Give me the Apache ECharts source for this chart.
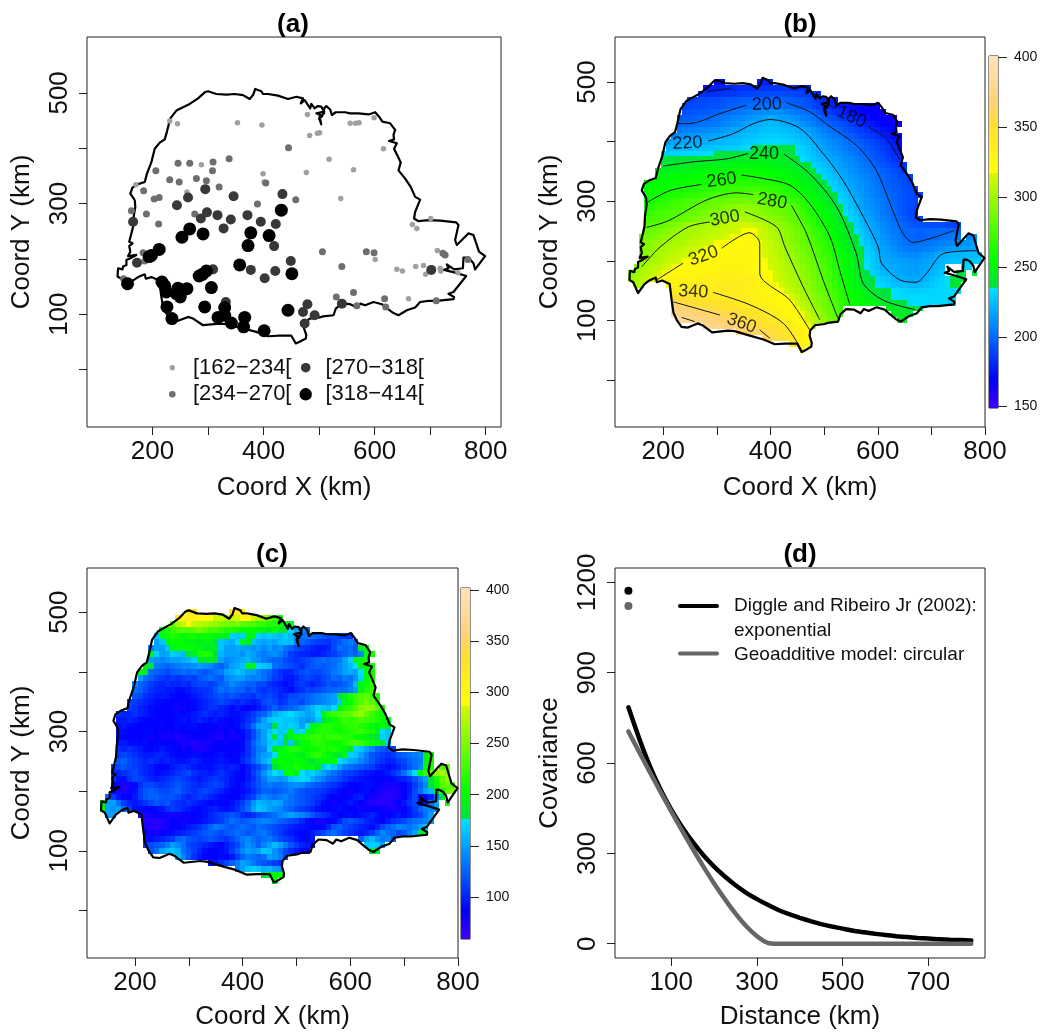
<!DOCTYPE html>
<html><head><meta charset="utf-8"><style>html,body{margin:0;padding:0;background:#fff}#c{width:1045px;height:1032px}</style>
<script src="https://cdn.jsdelivr.net/npm/echarts@6/dist/echarts.min.js"></script></head>
<body><div id="c"></div>
<script>
// ---------- state boundary (km) ----------
const boundary=[[168,306],[160,318],[164,329],[174,335],[186,339],[190,354],[198,375],[204,399],[213,410],[222,416],[226,430],[232,454],[243,468],[267,480],[282,490],[294,501],[300,503],[315,498],[333,497],[336,499],[348,498],[363,496],[375,489],[381,496],[385,507],[396,503],[399,498],[408,498],[426,495],[444,489],[459,493],[471,490],[467,481],[474,487],[484,472],[486,480],[492,472],[497,476],[504,475],[509,466],[495,463],[506,458],[500,454],[504,443],[501,443],[501,457],[509,463],[509,472],[513,476],[520,470],[523,460],[530,465],[547,465],[556,463],[571,463],[589,461],[601,465],[608,457],[614,448],[628,445],[637,433],[634,424],[635,416],[626,413],[640,409],[635,399],[641,387],[647,374],[643,360],[655,345],[665,330],[673,312],[682,307],[673,285],[671,273],[679,268],[697,270],[718,269],[747,266],[751,261],[745,234],[748,225],[763,240],[769,246],[778,243],[783,228],[788,213],[799,205],[781,181],[778,192],[772,199],[766,202],[760,202],[759,183],[743,181],[730,190],[733,183],[725,180],[745,175],[765,169],[742,140],[733,137],[743,131],[742,127],[712,124],[697,124],[682,122],[673,112],[658,107],[643,98],[634,102],[623,110],[613,118],[598,122],[583,116],[574,119],[568,112],[556,118],[541,119],[530,110],[526,98],[507,96],[501,94],[483,92],[474,83],[473,74],[477,62],[476,56],[465,50],[458,47],[450,61],[426,61],[408,60],[387,68],[363,74],[333,82],[321,83],[291,80],[273,92],[264,95],[246,88],[234,89],[225,101],[219,113],[216,131],[212,161],[198,167],[188,164],[186,172],[174,167],[165,161],[153,146],[144,164],[137,168],[138,183],[146,181],[147,186],[153,189],[153,198],[160,201],[171,207],[156,205],[160,213],[158,223],[164,228],[158,231],[162,246],[165,258],[166,276],[169,294],[168,306]];
// ---------- panel (a) stations by class ----------
const class1=[[231,449],[245,444],[353,446],[397,442],[479,461],[483,423],[497,427],[501,428],[556,445],[566,445],[572,446],[599,455],[616,399],[518,380],[562,361],[477,356],[399,354],[401,339],[288,370],[170,334],[262,321],[539,309],[668,262],[676,255],[701,273],[601,199],[640,181],[650,178],[674,186],[688,188],[692,172],[718,183],[719,178],[713,215],[750,175],[661,128]];
const class2=[[246,373],[267,373],[309,375],[338,381],[308,359],[206,359],[231,343],[248,339],[279,345],[297,341],[320,330],[184,323],[203,308],[212,311],[189,281],[211,263],[162,287],[276,281],[389,299],[458,307],[404,337],[445,401],[506,213],[585,213],[599,211],[541,186],[562,139],[531,131],[618,128],[568,115],[620,113],[711,124],[723,210],[727,207],[768,199],[183,211],[186,196],[148,164]];
const class3=[[295,326],[346,313],[264,311],[244,297],[434,317],[298,284],[287,273],[317,279],[341,271],[371,279],[395,267],[422,263],[328,255],[419,223],[165,267],[172,193],[377,180],[402,165],[421,178],[449,196],[309,181],[332,122],[471,104],[479,118],[474,83],[492,98],[541,119],[702,180]];
const class4=[[432,288],[377,247],[410,242],[372,224],[291,245],[267,254],[253,239],[212,217],[198,206],[194,204],[357,189],[451,173],[297,178],[290,172],[284,169],[155,155],[217,158],[222,151],[225,140],[246,147],[262,146],[250,131],[243,137],[306,148],[294,113],[226,113],[235,92],[330,112],[330,98],[318,94],[342,84],[366,94],[364,77],[401,70],[444,107]];
const classLabels=['[162\u2212234[','[234\u2212270[','[270\u2212318[','[318\u2212414['];
// ---------- grid segments shared by panels (b) and (c) ----------
const segY=[500,500,490,480,470,460,450,440,430,420,410,400,390,380,370,360,350,340,330,320,310,300,290,280,270,260,250,240,240,230,220,210,200,190,190,180,180,180,170,160,160,150,140,130,120,120,110,110,100,100,90,80,70,60,50,190,180];
const segX=[300,380,280,270,250,240,240,230,230,230,220,210,210,200,200,200,190,190,170,170,170,170,170,170,170,170,170,160,770,160,160,160,160,150,760,140,750,780,140,150,210,220,220,220,220,620,220,630,230,640,280,340,390,440,460,730,730];
const trendB=[
[172,172],
[178,178,178],
[175,176,177,178,179,180,181,182,183,184,184,184,184,184,184,184,183,183,182,181],
[182,182,183,183,184,185,186,187,188,189,190,190,191,191,191,191,190,190,189,188,186,184,182],
[188,189,190,190,191,192,193,194,195,196,197,197,198,198,198,198,198,198,197,196,195,194,192,188,184,181,179,177],
[190,190,191,191,192,193,193,194,196,197,198,199,200,201,202,203,203,203,202,201,199,197,195,193,190,187,184,182,179,177,175,173,172,170,168,166,165],
[192,193,194,195,195,196,198,200,202,203,204,205,207,208,209,210,211,211,210,208,206,204,203,201,197,193,189,186,183,180,177,174,172,170,169,168,167,165],
[195,196,197,198,199,200,201,203,204,206,208,209,210,212,214,215,217,219,218,216,215,213,210,207,205,203,199,196,193,190,187,184,181,178,175,173,170,168,167,166,165],
[200,200,200,201,202,203,204,205,207,209,211,213,215,217,219,220,222,224,223,221,219,217,215,212,209,206,203,201,198,195,193,190,187,184,181,178,175,172,170,168,166,165],
[205,206,207,208,209,210,211,212,214,215,217,218,220,222,223,225,226,226,226,225,224,223,221,219,216,212,209,206,203,200,197,194,191,188,186,184,180,177,174,172,169],
[209,210,212,213,214,215,216,217,218,219,220,221,222,224,225,226,228,229,230,230,229,228,227,225,222,220,216,213,210,207,204,201,198,196,193,190,187,185,182,179,175,172,168],
[215,216,217,218,219,219,220,220,221,222,223,224,225,226,228,229,230,231,232,233,233,232,231,230,228,225,223,220,217,214,211,208,206,203,201,198,195,192,190,187,184,180,176,172],
[223,223,223,224,224,225,225,226,227,228,228,229,230,231,232,234,235,236,236,237,237,237,237,235,232,230,227,223,219,216,213,211,208,206,203,201,198,195,192,189,186,183,179,173],
[230,230,231,231,232,232,233,233,234,234,235,236,236,237,237,238,239,239,240,240,240,240,240,239,236,233,231,228,225,222,219,216,214,211,209,206,203,200,197,194,192,189,185,182,178],
[236,236,236,237,237,237,238,238,239,239,240,240,241,242,243,244,245,245,246,246,246,245,244,242,240,237,234,230,227,224,222,219,217,214,211,209,206,203,200,197,194,191,188,184,181],
[240,240,241,242,243,243,244,245,246,247,248,248,249,250,250,250,250,250,250,249,249,248,246,245,243,241,238,235,232,229,225,222,219,216,213,210,208,205,203,200,197,194,191,188,185,183],
[246,247,247,248,249,249,250,251,252,253,254,254,255,256,257,258,258,258,257,256,255,254,253,251,250,248,246,243,239,236,232,229,225,222,218,216,213,210,207,205,202,199,197,195,192,189,185],
[251,252,252,253,254,254,255,256,256,257,257,258,259,259,260,261,261,261,260,259,258,257,256,256,254,252,250,247,244,240,236,232,228,225,221,218,215,212,209,207,204,201,199,197,195,192,190,187],
[254,254,255,255,256,257,257,258,258,259,259,260,261,262,263,264,265,266,266,266,265,265,264,263,262,261,260,257,253,250,247,243,240,236,232,228,224,220,217,214,211,209,206,203,199,197,195,193,191,189],
[257,257,258,258,259,260,261,262,263,264,265,266,267,268,269,270,271,272,272,273,273,272,271,269,268,266,263,261,258,254,251,247,243,240,236,231,227,223,218,215,213,210,207,204,201,198,196,195,192,190,188],
[258,259,260,261,262,263,264,266,267,269,270,271,273,275,276,277,278,279,280,281,281,280,278,276,273,270,267,265,262,258,254,250,247,243,239,235,230,226,222,217,214,211,208,205,202,199,197,195,193,191,189,187],
[260,262,264,265,267,270,272,274,275,277,279,280,282,283,284,286,287,287,287,287,287,285,282,280,279,278,275,271,268,264,260,255,251,246,242,238,233,229,224,220,217,213,210,207,204,201,198,196,193,191,189],
[265,266,268,270,272,274,275,277,279,281,283,284,286,287,289,291,293,295,296,295,294,291,288,287,285,284,282,280,275,270,264,258,254,250,246,242,236,231,226,221,217,214,211,208,205,202,199,196,193,191,188],
[270,272,274,275,277,278,279,281,283,285,287,290,292,293,295,297,298,299,300,299,296,294,292,290,288,286,284,282,278,273,267,262,257,253,249,244,240,234,229,225,220,216,213,209,206,203,200,196,193,190,188],
[274,275,277,278,279,281,283,285,288,290,292,294,296,298,300,301,303,304,305,303,302,300,298,295,293,290,287,284,281,277,270,265,260,256,251,247,243,238,232,228,222,218,215,211,208,205,201,198,195,192,190,189],
[279,280,281,284,288,291,294,297,300,301,302,303,304,305,308,310,312,314,316,315,312,310,306,302,298,295,291,288,284,280,274,268,263,259,254,250,245,240,235,230,225,220,217,213,210,207,203,200,198,196,194,193,192,192,191,191,190,189,188],
[283,285,288,290,293,296,299,301,302,303,305,306,308,309,311,312,314,315,317,319,317,314,311,306,302,298,294,290,286,282,278,272,268,262,258,252,248,243,238,233,228,222,219,215,211,208,205,202,199,199,198,198,199,200,200,200,200,200,199],
[285,287,290,292,294,297,300,302,303,305,306,308,309,311,313,314,316,317,319,321,322,319,315,312,307,304,300,296,292,288,284,280,275,270,265,260,255,250,245,240,235,230,225,220,216,213,210,207,204,201,199,198,197,198,199,200,202,203,204,205],
[210,212],
[288,292,295,297,299,301,303,304,306,308,309,311,313,315,317,318,319,321,323,325,326,323,320,315,310,306,302,297,293,290,285,281,277,272,268,263,258,252,247,242,237,232,228,223,219,215,212,208,205,203,201,201,202,203,204,205,207,208,209,211,212,213,216],
[290,293,297,300,302,304,306,308,310,312,314,315,317,318,319,321,323,325,327,328,327,324,320,316,312,308,304,300,296,292,288,284,280,275,270,265,259,253,248,244,240,235,230,225,220,217,214,211,208,206,205,204,205,207,208,210,212,214,215,216,216,217,217],
[293,297,300,302,305,307,310,312,314,316,317,319,320,321,323,325,326,328,328,327,326,323,320,316,312,309,305,301,298,294,290,285,281,277,272,268,262,256,252,247,242,237,232,228,222,218,216,214,212,211,210,209,211,213,215,218,220,221,222,222,223,224,224,225],
[296,300,303,305,308,311,313,316,318,320,321,323,324,325,325,326,327,328,328,329,328,324,320,317,313,311,307,303,300,296,292,288,283,279,274,270,265,260,254,250,245,240,234,229,224,219,218,217,216,215,214,213,214,216,218,220,222,224,225,226,227,228,229,230],
[295,300,303,307,310,313,316,319,321,323,324,325,326,326,327,328,329,330,330,330,330,329,326,322,318,315,311,308,305,302,298,294,290,285,281,275,270,264,258,253,248,243,238,234,229,225,220,219,219,218,217,216,215,216,218,220,222,224],
[232,232],
[297,300,303,306,310,314,317,320,322,325,326,327,328,328,329,330,331,331,332,332,332,331,330,328,325,322,318,314,310,306,303,300,296,292,287,282,278,273,268,260,255,250,246,240,235,231,228,224,221,219,218,217,216,216,218,219,222,225,227],
[235,236],
[238],
[299,303,307,311,316,320,323,326,328,329,330,331,332,332,333,333,333,334,334,334,335,335,334,331,327,321,317,314,311,307,304,301,298,293,288,283,279,273,268,262,257,251,247,241,238,235,231,229,226,223,220,220,219,219,219,222,225,228,231,233,236,238,240],
[304,306],
[330,332,333,334,335,335,336,336,337,337,338,338,338,338,337,335,332,328,325,321,318,314,310,307,303,300,295,290,285,280,275,270,264,259,253,248,242,238,236,233,231,229,226,225,224,223,222,224,226,228,230,232,234,236,239],
[338,338,339,340,340,340,340,340,339,339,338,337,336,335,333,331,330,327,324,322,318,314,310,306,301,297,292,287,282,278,272,266,260,256,252,248,244,240,238,236,235,234,232,231,230,230,230,231,231,232,232,232,233,233],
[350,349,348,347,346,345,344,343,342,341,340,339,338,336,335,333,331,329,327,325,322,320,315,310,305,300,295,290,285,280,274,268,262,258,255,251,247,244,241,238,236,234,233,233,233,233,233,233,232,232,232,232,232],
[360,358,356,354,352,351,349,348,347,346,345,343,342,340,338,335,333,331,329,327,324,322,319,313,308,303,298,292,287,282,276,270,264,259,257,254,251,248,246,244,241,239,237,235,234,234,233,233,232,232,232,231,231],
[370,368,366,364,361,359,357,355,352,350,348,347,345,344,342,341,338,335,333,330,327,325,322,318,312,306,300,295,288,283,277,272],
[246,244,242,240,238,236,235],
[378,376,374,372,370,368,366,363,361,359,357,355,353,350,348,346,344,342,338,335,332,328,325,322,317,310,304,298,292,286,281,275],
[244,243,242,241],
[384,382,380,377,375,372,370,367,365,362,360,358,355,353,350,348,346,344,341,337,334,330,325,321,314,309,302,296,290,284],
[245,245],
[380,378,375,372,370,367,365,362,360,357,354,351,349,346,343,340,335,330,325,318,310],
[370,367,365,363,361,359,355,352,348,344,339,334,329,323],
[363,360,356,352,347,342,337,330,322],
[345,340,333,325],
[338],
[],
[]];
const spatialC=[
[320,325],
[320,315,305],
[300,310,315,310,300,295,290,280,280,275,280,285,295,300,280,270,260,240,225,210],
[240,270,280,290,280,275,270,265,260,255,250,245,250,240,235,235,225,225,215,215,205,205,195],
[200,215,225,235,240,235,240,250,240,230,235,225,215,215,210,205,205,205,200,195,190,200,185,178,170,150,140,130],
[165,200,205,215,210,200,210,210,200,205,205,195,195,190,170,165,170,190,195,170,165,170,165,160,170,160,140,130,135,130,125,120,115,115,110,110,105],
[150,165,195,205,205,200,195,195,190,195,195,178,165,160,155,170,195,190,165,155,150,155,150,160,165,160,140,125,120,115,110,108,105,115,120,130,135,125],
[140,150,150,165,195,200,205,205,200,195,190,190,185,165,150,150,155,150,150,145,150,140,150,140,145,130,125,115,110,105,100,95,95,100,115,130,125,130,120,185,200],
[190,170,150,155,170,165,160,180,190,210,215,210,178,160,150,150,150,145,155,150,140,135,140,145,135,125,110,105,100,100,95,95,100,105,110,120,125,130,125,140,200,210],
[150,145,140,145,150,150,155,160,170,178,185,190,178,150,140,145,150,155,160,150,145,135,130,125,125,115,110,105,110,115,120,125,130,125,130,135,150,170,195,205,215],
[190,180,135,130,125,130,135,140,140,145,150,145,140,130,125,135,150,155,165,195,200,170,165,160,130,125,120,115,110,105,115,120,125,120,125,130,140,150,160,175,190,205,215],
[200,185,130,125,120,115,120,125,130,125,130,125,120,125,130,135,150,155,165,160,150,150,140,130,125,115,105,100,100,110,115,120,115,115,120,125,135,140,150,155,150,175,195,210],
[150,130,125,115,110,105,110,105,110,115,110,120,125,130,125,120,140,145,150,150,140,135,140,130,120,110,105,95,95,100,110,115,110,105,115,120,130,125,135,130,145,170,200,215],
[140,125,120,110,105,100,105,100,100,105,100,110,115,115,110,115,125,130,140,135,130,125,125,115,115,105,100,95,90,95,105,110,105,100,105,110,120,115,120,125,135,160,195,205,220],
[130,125,115,105,100,100,95,95,90,90,95,100,105,105,110,120,130,125,130,125,125,115,120,110,105,110,105,100,95,90,100,105,115,110,115,120,125,125,130,130,140,150,195,215,225],
[120,115,105,100,95,95,95,90,88,85,90,95,100,105,110,115,120,115,120,115,110,110,105,115,110,115,110,100,105,115,115,120,125,130,135,140,145,150,178,195,215,225,235,240,225,215],
[115,110,105,100,95,90,90,88,85,85,82,85,90,95,100,105,110,115,110,105,100,105,100,95,100,115,120,115,105,110,120,120,115,125,130,135,140,145,150,165,195,205,225,235,245,235,220],
[110,105,100,95,90,88,85,85,82,80,82,85,88,95,100,105,105,100,95,90,95,90,85,90,95,105,115,125,115,120,125,130,140,150,160,170,165,160,175,195,215,220,235,250,260,255,235,215],
[105,100,100,105,100,95,90,88,85,85,88,90,88,90,95,100,105,100,95,100,95,90,90,95,100,110,120,125,140,155,165,170,175,165,160,150,155,175,195,215,225,230,235,240,255,260,240,225,215,205],
[95,95,100,95,90,88,88,85,88,85,85,90,95,90,95,100,95,90,95,90,88,85,90,95,105,115,130,150,165,170,170,165,165,160,150,145,150,165,178,195,205,215,225,220,225,230,225,220,215,205,195],
[90,95,90,88,85,85,88,85,82,85,85,90,88,90,92,88,85,88,85,82,82,85,90,100,110,130,150,155,150,178,170,165,170,165,150,175,195,205,215,215,210,210,215,220,225,215,210,200,190,200,185],
[92,90,88,85,85,90,88,85,82,80,85,82,85,85,88,85,88,85,82,80,85,80,85,90,100,115,135,150,165,175,165,170,195,170,175,195,205,215,220,215,210,205,210,215,220,225,215,210,195,175,165],
[90,88,85,88,85,88,82,85,80,78,80,75,78,82,85,85,82,80,78,75,82,78,80,88,100,115,135,150,170,180,170,178,195,205,210,215,220,225,215,220,225,220,215,215,205,200,195,185,178,170,165],
[95,95,90,90,88,90,85,88,88,85,88,82,75,78,72,75,80,78,85,85,80,85,85,90,105,125,140,150,165,170,165,178,165,178,200,205,215,220,215,210,205,205,215,225,230,225,215,205,195,180,170],
[105,100,105,100,95,90,88,90,95,90,88,85,80,85,78,75,78,82,85,88,85,88,85,90,105,120,135,140,170,180,195,205,215,215,205,200,205,210,215,210,215,205,195,180,170,165,150,140,125,120,115,110],
[110,115,110,105,100,95,95,100,100,95,90,88,85,88,90,90,88,85,90,92,88,85,88,95,105,120,140,150,155,175,195,200,205,195,190,205,215,220,210,200,190,180,195,170,165,150,135,120,115,110,105,110,120,125,130,135,140,190,205],
[120,125,115,110,105,100,105,100,95,100,95,92,90,95,100,95,90,90,92,95,92,88,90,100,110,125,140,155,165,195,205,200,195,205,200,190,178,195,200,195,205,175,165,155,150,140,130,120,110,105,100,100,110,115,125,130,135,195,210],
[110,115,120,115,110,105,100,95,90,88,88,95,100,105,100,95,90,92,90,95,100,95,100,95,88,95,105,115,130,145,178,195,205,200,210,205,195,200,185,165,175,165,150,135,130,125,120,115,110,100,95,90,95,100,110,120,130,140,200,215],
[235,240],
[105,100,105,110,115,105,100,95,90,92,95,100,105,110,115,105,100,98,95,100,105,100,95,90,85,95,110,125,145,160,175,165,195,205,190,175,165,170,160,150,140,130,120,115,110,105,100,95,92,88,90,95,105,115,130,150,175,200,225,250,260,265,255],
[110,90,92,105,115,110,105,100,95,100,105,110,115,110,105,100,95,100,105,110,105,100,92,88,85,95,105,120,135,150,150,145,150,165,170,175,170,155,145,135,125,120,115,105,100,95,92,90,88,85,85,85,90,95,100,105,120,135,150,178,210,240,260],
[85,80,75,78,90,105,115,115,110,105,110,115,120,115,110,105,100,105,110,115,110,100,92,88,92,100,110,120,130,135,130,130,135,140,145,140,130,125,120,115,110,105,100,92,85,85,88,92,90,85,80,78,78,80,85,95,110,125,140,178,205,235,245,225],
[85,78,75,80,92,110,120,125,120,115,115,120,125,115,110,105,110,115,110,105,100,92,88,85,90,95,105,115,125,125,120,125,130,135,125,120,115,115,110,105,100,95,90,85,82,85,90,92,85,80,75,72,72,78,85,95,115,130,150,160,178,215,240,250],
[130,110,95,88,85,95,110,120,125,125,120,118,120,115,105,100,105,110,105,100,95,90,88,85,88,95,105,115,130,140,135,130,135,140,130,125,120,115,110,105,100,90,85,82,85,90,95,98,88,80,75,72,70,72,75,85,100,115],
[135,178],
[190,150,150,130,110,100,95,100,105,115,120,115,120,110,105,100,105,100,95,92,88,90,88,85,92,100,110,125,145,160,155,150,155,150,135,130,125,120,115,110,100,90,85,80,85,90,95,90,85,78,72,70,70,70,75,85,95,105,115],
[130,150],
[215],
[195,150,145,150,130,110,92,90,88,85,90,95,105,110,105,100,95,90,88,92,95,100,92,90,95,105,115,130,150,165,160,150,145,140,130,125,115,110,105,100,92,88,85,88,92,88,85,82,80,82,85,88,80,78,75,80,85,95,110,125,135,140,145],
[150,150],
[72,75,80,85,82,80,78,80,85,82,85,88,92,100,105,110,115,120,115,105,100,105,115,120,125,130,140,145,150,145,140,130,120,110,105,100,92,85,88,90,88,92,95,100,92,85,85,90,95,90,95,105,115,130,150],
[70,72,70,72,78,85,82,80,82,85,90,95,100,105,110,120,130,125,120,125,130,135,140,135,130,125,120,115,110,100,90,85,80,78,85,90,100,115,120,115,110,100,95,90,85,95,105,110,115,125,130,135,140,150],
[75,72,70,75,80,85,88,90,95,100,105,115,125,135,130,125,120,125,130,125,120,130,125,120,115,110,105,100,95,92,90,88,85,90,100,120,125,115,110,105,100,95,90,100,115,125,130,140,135,130,140,150,165],
[85,80,78,85,90,92,95,100,105,110,115,120,125,120,115,120,125,130,125,120,125,130,135,125,115,110,100,95,90,88,90,95,105,115,125,130,120,110,105,100,95,100,110,125,140,130,125,115,120,135,150,178,195],
[95,90,95,100,105,110,125,130,120,115,110,115,120,115,110,105,115,125,135,140,130,125,130,135,125,115,110,105,95,90,88,95],
[125,150,160,145,135,140,125],
[110,115,120,125,135,150,140,130,115,110,105,100,95,90,85,95,105,115,130,145,135,125,140,150,160,150,135,120,110,100,95,90],
[165,170,165,150],
[120,130,150,160,165,155,130,120,110,100,92,88,85,90,95,110,125,140,150,145,150,165,160,145,130,115,105,95,88,85],
[178,185],
[160,140,120,105,95,88,85,85,90,88,95,110,125,135,130,125,130,150,145,135,115],
[90,95,105,115,125,135,150,145,135,125,120,115,110,105],
[140,150,165,170,165,155,160,150,145],
[178,190,200,205],
[200],
[78,85,100],
[80,90]];
// ---------- contours of panel (b) ----------
const contourLines=[
[[281,483],[327,490]],
[[498,466],[523,455]],
[[582,425],[616,405],[641,369]],
[[228,430],[256,431],[306,447],[355,461]],
[[430,465],[473,450],[511,425],[560,394],[597,352],[629,282],[647,246],[666,231],[697,237],[743,251]],
[[284,401],[330,413],[368,430],[399,437],[455,422],[498,380],[535,335],[573,274],[601,223],[607,196],[641,168],[672,164],[691,179],[722,212],[784,217]],
[[200,359],[256,366],[318,371],[358,380]],
[[425,379],[473,346],[523,291],[560,212],[573,162],[610,134],[669,118]],
[[172,299],[213,318],[271,328]],
[[346,344],[386,338],[436,327],[473,296],[511,240],[529,184],[548,126]],
[[169,256],[209,267],[281,302],[337,314],[368,311]],
[[439,293],[467,246],[498,168],[526,103]],
[[160,190],[194,223],[247,257],[287,265]],
[[352,282],[411,257],[427,223],[461,156],[492,101]],
[[188,168],[237,196]],
[[309,221],[361,247],[380,229],[380,179],[436,134],[473,84]],
[[293,147],[362,126],[424,95],[458,50]],
[[219,131],[306,109]],
[[380,84],[399,70]],
[[234,105],[259,98]]];
const contourLabels=[[393,462,'200',2],[551,441,'180',-25],[245,397,'220',3],[388,379,'240',0],[309,335,'260',8],[403,300,'280',-10],[315,271,'300',10],[275,208,'320',20],[256,148,'340',-3],[346,95,'360',-20]];
// ---------- panel (d) ----------
const distD=[0,25,50,75,100,125,150,175,200,225,250,275,300,325,350,375,400,425,450,475,500,525,550,575,600,625,650,675,700,725,750,775,800];
const exponentialCov=[785,682,590,512,445,388,338,294,256,223,194,169,148,129,112,98,86,75,65,57,50,43,38,33,29,25,22,19,17,15,13,12,11];
const circularCov=[705,637,570,504,439,376,315,256,200,148,100,58,25,3,0,0,0,0,0,0,0,0,0,0,0,0,0,0,0,0,0,0,0];
const nuggetExp=1172, nuggetCirc=1122;

// ---------- styling helpers ----------
const FONT='"Liberation Sans",Arial,sans-serif', INK='#111', EDGE='#222';
const stops=[[0,'#4000ff'],[.08,'#0000ff'],[.2,'#0068ff'],[.34,'#00e0ff'],[.3401,'#00e040'],[.42,'#00ff00'],[.665,'#d8f800'],[.667,'#ffff00'],[.8,'#ffe030'],[.87,'#ffd278'],[1,'#ffe2ba']];
const hex=h=>[1,3,5].map(i=>parseInt(h.substr(i,2),16));
function ramp(f){f=Math.max(0,Math.min(1,f));for(let i=1;i<stops.length;i++){if(f<=stops[i][0]){const a=stops[i-1],b=stops[i],t=(f-a[0])/(b[0]-a[0]),A=hex(a[1]),B=hex(b[1]);return 'rgb('+A.map((v,k)=>Math.round(v+(B[k]-v)*t)).join(',')+')';}}return stops[stops.length-1][1];}
function cellSeries(rows,xi,lo,hi){
  const data=[];rows.forEach((r,i)=>r.forEach((v,j)=>data.push([segX[i]+10*j,segY[i],v])));
  return {type:'custom',xAxisIndex:xi,yAxisIndex:xi,data,silent:true,progressive:0,animation:false,clip:false,encode:{x:0,y:1},
    renderItem:(p,api)=>{const x=api.value(0),y=api.value(1),a=api.coord([x-5,y+5]),b=api.coord([x+5,y-5]),l=Math.round(a[0]),t=Math.round(a[1]);
      return {type:'rect',shape:{x:l,y:t,width:Math.round(b[0])-l,height:Math.round(b[1])-t},style:{fill:ramp((api.value(2)-lo)/(hi-lo))}};}};
}
function barSeries(xi,lo,hi){
  const data=[];for(let v=lo;v<hi;v++)data.push([v]);
  return {type:'custom',xAxisIndex:xi,yAxisIndex:xi,data,silent:true,progressive:0,animation:false,encode:{y:0},
    renderItem:(p,api)=>{const v=api.value(0),a=api.coord([0,v+1]),b=api.coord([1,v]),t=Math.round(a[1]);
      return {type:'rect',shape:{x:a[0],y:t,width:b[0]-a[0],height:Math.round(b[1])-t},style:{fill:ramp((v+.5-lo)/(hi-lo))}};}};
}
const outline=xi=>({type:'line',xAxisIndex:xi,yAxisIndex:xi,data:boundary,showSymbol:false,silent:true,animation:false,lineStyle:{color:'#000',width:2.2,join:'round'},z:5});
const dots=(d,size,color)=>({type:'scatter',xAxisIndex:0,yAxisIndex:0,data:d,symbolSize:size,itemStyle:{color,opacity:1},silent:true,animation:false,z:6});
const gridBox=(left,top,width,height)=>({left,top,width,height,show:true,borderColor:EDGE,borderWidth:1,backgroundColor:'transparent',containLabel:false,outerBoundsMode:'none'});
const plain=v=>String(v);
function xA(g,min,max,ticks,labels,name,gap){return {type:'value',gridIndex:g,min,max,name,nameLocation:'middle',nameGap:gap,nameTextStyle:{fontFamily:FONT,fontSize:26,color:INK},axisLine:{show:false,onZero:false},splitLine:{show:false},
  axisTick:{show:true,length:8,customValues:ticks,lineStyle:{color:EDGE}},axisLabel:{show:true,customValues:labels,formatter:plain,fontFamily:FONT,fontSize:26,color:INK,margin:12}};}
function yA(g,min,max,ticks,labels,name,gap){return {type:'value',gridIndex:g,min,max,name,nameLocation:'middle',nameGap:gap,nameRotate:90,nameTextStyle:{fontFamily:FONT,fontSize:26,color:INK},axisLine:{show:false,onZero:false},splitLine:{show:false},
  axisTick:{show:true,length:8,customValues:ticks,lineStyle:{color:EDGE}},axisLabel:{show:true,rotate:90,customValues:labels,formatter:plain,fontFamily:FONT,fontSize:26,color:INK,margin:14}};}
const barX=g=>({type:'value',gridIndex:g,min:0,max:1,show:false});
const barY=(g,min,max,ticks)=>({type:'value',gridIndex:g,position:'right',min,max,axisLine:{show:false,onZero:false},splitLine:{show:false},axisTick:{show:true,length:9,customValues:ticks,lineStyle:{color:EDGE}},axisLabel:{show:true,customValues:ticks,formatter:plain,fontFamily:FONT,fontSize:14,color:INK,margin:16}});
const xT=[200,300,400,500,600,700,800], xL=[200,400,600,800], yT=[0,100,200,300,400,500], yL=[100,300,500];
const title=(text,left,top)=>({text,left,top,textAlign:'center',textStyle:{fontFamily:FONT,fontSize:26,fontWeight:'bold',color:'#000'}});
const legDot=(cx,cy,r,fill)=>({type:'circle',shape:{cx,cy,r},style:{fill},silent:true});
const legTxt=(x,y,text,fontSize)=>({type:'text',x,y,style:{text,font:fontSize+'px '+FONT,fill:INK,verticalAlign:'middle',textVerticalAlign:'middle',textAlign:'left'},silent:true});
const legLine=(y,stroke)=>({type:'line',shape:{x1:680,y1:y,x2:717,y2:y},style:{stroke,lineWidth:4,lineCap:'round'},silent:true});

const chart=echarts.init(document.getElementById('c'),null,{width:1045,height:1032});
const series=[
  outline(0),dots(class1,5.5,'#a0a0a0'),dots(class2,7,'#6e6e6e'),dots(class3,10,'#383838'),dots(class4,13,'#000'),
  cellSeries(trendB,1,149,401),outline(1),
  ...contourLines.map(d=>({type:'line',xAxisIndex:1,yAxisIndex:1,data:d,smooth:.3,showSymbol:false,silent:true,animation:false,lineStyle:{color:'#111',width:1},z:4})),
  {type:'scatter',xAxisIndex:1,yAxisIndex:1,symbolSize:4,silent:true,animation:false,z:7,itemStyle:{color:'transparent'},
   data:contourLabels.map(c=>({value:[c[0],c[1]],label:{show:true,formatter:c[2],rotate:c[3],position:'inside',fontFamily:FONT,fontSize:18,color:'#000'}}))},
  barSeries(2,149,401),
  cellSeries(spatialC,3,59,402),outline(3),
  barSeries(4,59,402),
  {type:'line',xAxisIndex:5,yAxisIndex:5,data:distD.map((d,i)=>[d,exponentialCov[i]]),smooth:.2,showSymbol:false,silent:true,animation:false,lineStyle:{color:'#000',width:4.5,cap:'round'},z:3},
  {type:'line',xAxisIndex:5,yAxisIndex:5,data:distD.map((d,i)=>[d,circularCov[i]]),smooth:.2,showSymbol:false,silent:true,animation:false,lineStyle:{color:'#666',width:4.5,cap:'round'},z:4},
  {type:'scatter',xAxisIndex:5,yAxisIndex:5,data:[[0,nuggetExp]],symbolSize:8,itemStyle:{color:'#000',opacity:1},silent:true,animation:false},
  {type:'scatter',xAxisIndex:5,yAxisIndex:5,data:[[0,nuggetCirc]],symbolSize:8,itemStyle:{color:'#666',opacity:1},silent:true,animation:false}
];
chart.setOption({
  backgroundColor:'#fff',animation:false,
  title:[title('(a)',288,7),title('(b)',795,7),title('(c)',267,537),title('(d)',795,537)],
  grid:[gridBox(87,37,414,390),gridBox(615,37,370,390),gridBox(989,56,9,352),gridBox(87,568,371,390),gridBox(461,588,9,351),gridBox(615,568,370,390)],
  xAxis:[xA(0,82,827.6,xT,xL,'Coord X (km)',48),xA(1,110,800,xT,xL,'Coord X (km)',48),barX(2),xA(3,111,800,xT,xL,'Coord X (km)',46),barX(4),xA(5,-31.3,832,[100,300,500,700],[100,300,500,700],'Distance (km)',46)],
  yAxis:[yA(0,-104,601,yT,yL,'Coord Y (km)',52),yA(1,-78.8,575.4,yT,yL,'Coord Y (km)',52),barY(2,149,401,[150,200,250,300,350,400]),yA(3,-79.6,574,yT,yL,'Coord Y (km)',52),barY(4,59,402,[100,150,200,250,300,350,400]),yA(5,-47.5,1247.8,[0,300,600,900,1200],[0,300,600,900,1200],'Covariance',52)],
  series,
  graphic:[
    legDot(172.3,367.7,2.6,'#a0a0a0'),legDot(172.3,394.3,3.3,'#6e6e6e'),legDot(305.7,367.7,4.8,'#383838'),legDot(305.7,394.3,6.2,'#000'),
    legTxt(193,367.7,classLabels[0],22),legTxt(193,394.3,classLabels[1],22),legTxt(325.5,367.7,classLabels[2],22),legTxt(325.5,394.3,classLabels[3],22),
    legLine(606,'#000'),legLine(653.5,'#666'),
    legTxt(734,606,'Diggle and Ribeiro Jr (2002):',19),legTxt(734,631,'exponential',19),legTxt(734,655,'Geoadditive model: circular',19)
  ]
});
</script></body></html>
